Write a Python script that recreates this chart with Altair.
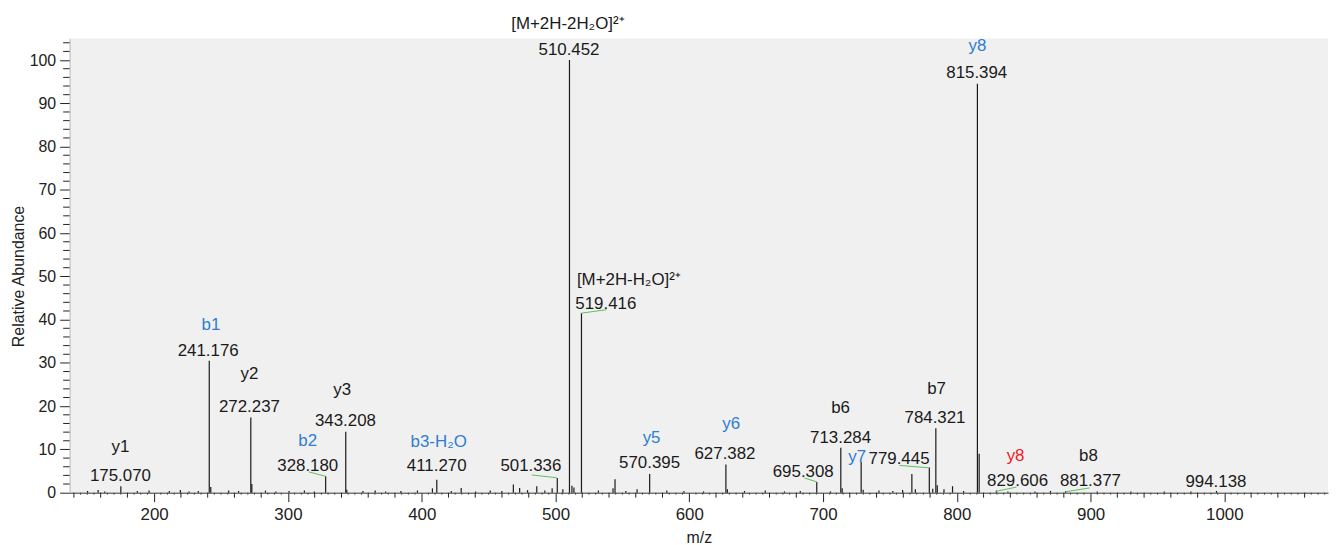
import altair as alt
import pandas as pd

# ---------------- data ----------------
# main peaks (m/z, relative abundance)
peak_mz = [175.070, 241.176, 272.237, 328.180, 343.208, 411.270, 501.336, 510.452,
           519.416, 544.5, 570.395, 627.382, 695.308, 713.284, 728.5, 766.4,
           779.445, 784.321, 815.394, 816.7, 829.606, 881.377, 994.138]
peak_int = [1.5, 30.5, 17.4, 3.8, 14.1, 3.0, 3.4, 100.0,
            41.5, 3.1, 4.3, 6.5, 2.5, 10.4, 7.1, 4.3,
            5.8, 14.9, 94.5, 9.0, 0.5, 0.4, 0.4]

# smaller side peaks
small_mz = [242.3, 273.0, 344.0, 408.0, 429.5, 468.5, 473.2, 486.0, 497.5, 512.3,
            513.8, 543.0, 561.0, 628.5, 714.3, 730.0, 769.0, 782.0, 785.4, 796.8]
small_int = [1.3, 2.0, 0.7, 1.0, 1.1, 1.9, 1.1, 1.5, 1.0, 1.6,
             1.2, 1.0, 0.8, 0.8, 1.0, 0.7, 0.8, 0.9, 1.7, 1.5]

# baseline noise peaks
noise_mz = [150.2, 158.1, 163.0, 187.4, 196.2, 211.3, 219.6, 226.1, 233.0, 255.7,
            263.1, 283.2, 291.0, 300.8, 312.3, 319.7, 356.1, 365.2, 373.0, 384.4,
            396.8, 422.1, 440.3, 451.2, 459.9, 479.1, 492.0, 505.5, 532.1, 552.6,
            583.2, 596.0, 610.7, 641.3, 656.8, 671.2, 683.0, 705.6, 741.8, 752.2,
            759.5, 790.4, 805.1, 838.2, 858.4, 870.0, 905.0, 930.2, 955.1, 975.0]
noise_int = [0.4, 0.6, 0.3, 0.4, 0.5, 0.4, 0.6, 0.3, 0.4, 0.5,
             0.4, 0.5, 0.3, 0.4, 0.5, 0.3, 0.4, 0.5, 0.3, 0.4,
             0.5, 0.4, 0.3, 0.5, 0.4, 0.6, 0.5, 0.8, 0.5, 0.4,
             0.5, 0.4, 0.3, 0.4, 0.5, 0.3, 0.4, 0.3, 0.5, 0.4,
             0.6, 0.8, 0.4, 0.3, 0.3, 0.4, 0.3, 0.3, 0.3, 0.3]

# m/z value labels and their placement
num_text = ["175.070", "241.176", "272.237", "328.180", "343.208", "411.270", "501.336",
            "510.452", "519.416", "570.395", "627.382", "695.308", "713.284", "779.445",
            "784.321", "815.394", "829.606", "881.377", "994.138"]
num_x = [174.8, 240.4, 271.2, 314.8, 343.0, 411.2, 481.6, 510.1, 537.6, 570.3,
         626.7, 685.2, 713.1, 756.8, 783.7, 814.9, 845.4, 899.9, 993.7]
num_y = [2.6, 31.6, 18.6, 5.0, 15.4, 5.1, 5.1, 101.2, 42.4, 5.7,
         7.8, 3.6, 11.6, 6.7, 16.1, 95.9, 1.5, 1.5, 1.4]

# ion annotations
ion_text = ["y1", "b1", "y2", "b2", "y3", "b3-H\u2082O", "[M+2H-2H\u2082O]\u00b2\u207a",
            "y5", "y6", "b6", "y7", "b7", "y8", "y8", "b8"]
ion_x = [174.8, 242.4, 271.2, 314.8, 340.6, 412.7, 509.3,
         571.8, 631.3, 713.1, 725.5, 784.9, 815.4, 843.9, 898.4]
ion_y = [9.4, 37.7, 26.2, 10.8, 22.6, 10.6, 107.2,
         11.4, 14.7, 18.4, 7.1, 22.8, 102.2, 7.4, 7.4]
ion_group = ["y", "b", "y", "b", "y", "b", "y",
             "b", "b", "y", "b", "y", "b", "r", "y"]

prec2_text = ["[M+2H-H\u2082O]\u00b2\u207a"]
prec2_x = [516.0]
prec2_y = [48.1]

# green label connectors
con_id = [1, 1, 2, 2, 3, 3, 4, 4, 5, 5, 6, 6, 7, 7]
con_x = [315.7, 328.0, 482.3, 500.9, 519.4, 538.1, 686.1, 695.3,
         757.2, 779.0, 829.1, 844.7, 881.1, 899.2]
con_y = [4.8, 3.8, 4.1, 3.45, 41.5, 42.3, 3.4, 2.5,
         6.3, 5.75, 0.3, 1.3, 0.2, 1.1]

x_major = list(range(200, 1001, 100))
x_mid = [v for v in range(140, 1076, 20) if v % 100 != 0]
x_small = [v for v in range(140, 1076, 5) if v % 20 != 0]
y_major = list(range(0, 101, 10))
y_minor = [v for v in range(0, 105, 2) if v % 10 != 0]

# ---------------- chart ----------------
FONT = "Liberation Sans"
W, H = 1266, 457
xs = alt.Scale(domain=[136.8, 1077.5], nice=False, zero=False)
ys = alt.Scale(domain=[0, 105], nice=False)

x_axis = alt.Axis(values=x_major, format="d", tickSize=9, tickColor="#222222",
                  domainColor="#333333", labelFontSize=17, labelFont=FONT,
                  labelColor="#222222", labelBaseline="alphabetic", labelPadding=18,
                  labelFlush=False, grid=False, titleFont=FONT, titleFontSize=16,
                  titleFontWeight="normal", titleColor="#222222", titleX=633,
                  titleY=50, titleBaseline="alphabetic")
y_axis = alt.Axis(values=y_major, tickSize=10, tickColor="#222222",
                  domainColor="#bbbbbb", labelFontSize=16, labelFont=FONT,
                  labelColor="#222222", labelPadding=4, grid=False,
                  titleFont=FONT, titleFontSize=16, titleFontWeight="normal",
                  titleColor="#222222", titleX=-46.5, titleY=239,
                  titleBaseline="alphabetic")


def X(field):
    return alt.X(field, scale=xs, axis=x_axis, title="m/z")


def Y(field):
    return alt.Y(field, scale=ys, axis=y_axis, title="Relative Abundance")


peaks = pd.DataFrame({"mz": peak_mz + small_mz + noise_mz,
                      "intensity": peak_int + small_int + noise_int})
peaks["base"] = 0.0

peak_layer = alt.Chart(peaks).mark_rule(color="#1a1a1a", strokeWidth=1.2).encode(
    x=X("mz:Q"), y=Y("base:Q"), y2="intensity:Q")

xmid_layer = alt.Chart(pd.DataFrame({"t": x_mid})).mark_rule(
    color="#222222", strokeWidth=1).encode(
    x=X("t:Q"), y=alt.value(H), y2=alt.value(H + 5))
xsmall_layer = alt.Chart(pd.DataFrame({"t": x_small})).mark_rule(
    color="#444444", strokeWidth=1).encode(
    x=X("t:Q"), y=alt.value(H), y2=alt.value(H + 2))
yminor_layer = alt.Chart(pd.DataFrame({"t": y_minor})).mark_rule(
    color="#222222", strokeWidth=1).encode(
    y=Y("t:Q"), x=alt.value(-6.5), x2=alt.value(0))

con_layer = alt.Chart(pd.DataFrame({"cid": con_id, "cx": con_x, "cy": con_y})).mark_line(
    color="#5cc15c", strokeWidth=1).encode(
    x=X("cx:Q"), y=Y("cy:Q"), detail="cid:N")

num_layer = alt.Chart(pd.DataFrame({"t": num_text, "lx": num_x, "ly": num_y})).mark_text(
    font=FONT, fontSize=17, baseline="alphabetic", align="center", color="#1a1a1a").encode(
    x=X("lx:Q"), y=Y("ly:Q"), text="t:N")

ion_layer = alt.Chart(pd.DataFrame({"t": ion_text, "lx": ion_x, "ly": ion_y,
                                    "g": ion_group})).mark_text(
    font=FONT, fontSize=17, baseline="alphabetic", align="center").encode(
    x=X("lx:Q"), y=Y("ly:Q"), text="t:N",
    color=alt.Color("g:N", scale=alt.Scale(domain=["b", "y", "r"],
                                           range=["#2e7dd1", "#1a1a1a", "#ee1c25"]),
                    legend=None))

prec_layer = alt.Chart(pd.DataFrame({"t": prec2_text, "lx": prec2_x, "ly": prec2_y})).mark_text(
    font=FONT, fontSize=17, baseline="alphabetic", align="left", color="#1a1a1a").encode(
    x=X("lx:Q"), y=Y("ly:Q"), text="t:N")

chart = alt.layer(peak_layer, xmid_layer, xsmall_layer, yminor_layer, con_layer,
                  num_layer, ion_layer, prec_layer).properties(
    width=W, height=H,
    autosize=alt.AutoSizeParams(type="none"),
    padding={"left": 62, "top": 29, "right": 5, "bottom": 51},
    background="white",
).configure_view(fill="#f0f0f0", strokeWidth=0)

chart.save("out.html", embed_options={"renderer": "svg", "actions": False})
